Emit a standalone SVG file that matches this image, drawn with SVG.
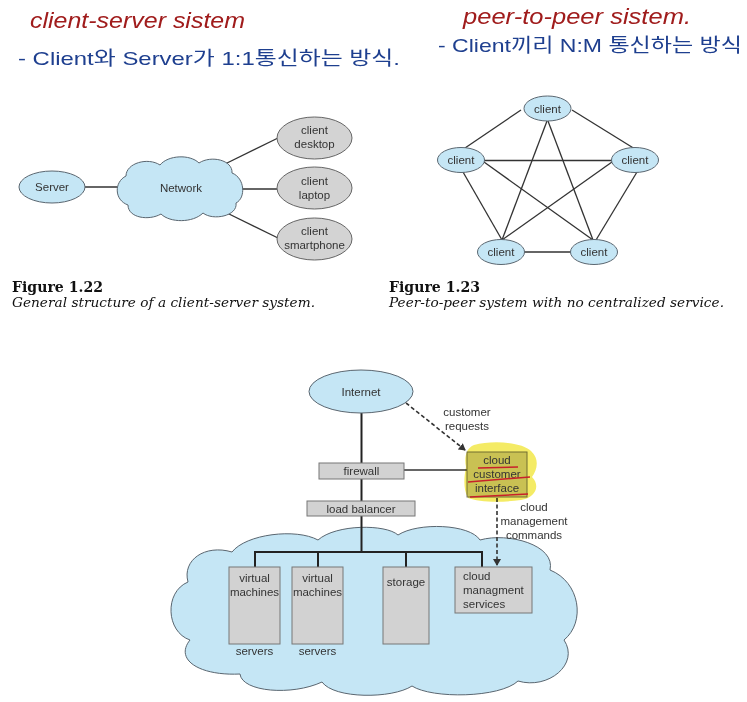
<svg xmlns="http://www.w3.org/2000/svg" width="747" height="702" viewBox="0 0 747 702">
<defs>
<style>
.hw-red{font-family:"Liberation Sans","Noto Sans CJK KR",sans-serif;font-size:22px;fill:#a01c1c;font-style:italic}
.hw-blue{font-family:"Liberation Sans","Noto Sans CJK KR",sans-serif;font-size:19px;fill:#1e3f8f}
.lbl{font-family:"Liberation Sans",Arial,sans-serif;font-size:11.5px;fill:#333;text-anchor:middle}
.lbl-l{font-family:"Liberation Sans",Arial,sans-serif;font-size:11.5px;fill:#333}
.capb{font-family:"DejaVu Serif","Liberation Serif",serif;font-size:15px;font-weight:bold;fill:#111}
.capi{font-family:"DejaVu Serif","Liberation Serif",serif;font-size:13px;font-style:italic;fill:#111}
.blue{fill:#c5e6f5;stroke:#5a6670;stroke-width:1}
.gray{fill:#d3d3d3;stroke:#666;stroke-width:1}
.box{fill:#d2d2d2;stroke:#777;stroke-width:1}
.edge{stroke:#333;stroke-width:1.3;fill:none}
.bus{stroke:#222;stroke-width:2;fill:none}
.dash{stroke:#333;stroke-width:1.6;fill:none;stroke-dasharray:4 2.5}
.redline{stroke:#c8202a;stroke-width:1.5;fill:none}
</style>
<marker id="arr" markerWidth="8" markerHeight="8" refX="6" refY="4" orient="auto" markerUnits="userSpaceOnUse">
<path d="M0,0 L7,4 L0,8 Z" fill="#333"/>
</marker>
</defs>
<rect width="747" height="702" fill="#fff"/>

<!-- handwritten notes -->
<g id="notes">
<text class="hw-red" x="30" y="28" textLength="215" lengthAdjust="spacingAndGlyphs">client-server sistem</text>
<text class="hw-blue" x="18" y="65" textLength="382" lengthAdjust="spacingAndGlyphs">- Client와 Server가 1:1통신하는 방식.</text>
<text class="hw-red" x="463" y="24" textLength="228" lengthAdjust="spacingAndGlyphs">peer-to-peer sistem.</text>
<text class="hw-blue" x="438" y="52" textLength="304" lengthAdjust="spacingAndGlyphs">- Client끼리 N:M 통신하는 방식</text>
</g>

<!-- Figure 1.22 connectors -->
<g id="connectors-122">
<line class="edge" x1="85" y1="187" x2="121" y2="187"/>
<line class="edge" x1="223" y1="165" x2="278" y2="138"/>
<line class="edge" x1="241" y1="189" x2="277" y2="189"/>
<line class="edge" x1="227" y1="213" x2="278" y2="238"/>
</g>
<g id="server">
<ellipse class="blue" cx="52" cy="187" rx="33" ry="16"/>
<text class="lbl" x="52" y="191">Server</text>
</g>
<g id="network">
<path class="blue" d="M128,205 C114,200 114,182 126,176 C126,163 148,157 160,165 C168,155 190,154 199,163 C211,155 233,160 232,173 C245,178 246,198 236,203 C238,216 213,221 203,213 C193,223 170,223 161,214 C149,221 128,218 128,205 Z"/>
<text class="lbl" x="181" y="192">Network</text>
</g>
<g id="client-desktop">
<ellipse class="gray" cx="314.5" cy="138" rx="37.5" ry="21"/>
<text class="lbl" x="314.5" y="134">client</text>
<text class="lbl" x="314.5" y="148">desktop</text>
</g>
<g id="client-laptop">
<ellipse class="gray" cx="314.5" cy="188" rx="37.5" ry="21"/>
<text class="lbl" x="314.5" y="185">client</text>
<text class="lbl" x="314.5" y="199">laptop</text>
</g>
<g id="client-smartphone">
<ellipse class="gray" cx="314.5" cy="239" rx="37.5" ry="21"/>
<text class="lbl" x="314.5" y="235">client</text>
<text class="lbl" x="314.5" y="249">smartphone</text>
</g>
<g id="caption-122">
<text class="capb" x="12" y="292" textLength="91" lengthAdjust="spacingAndGlyphs">Figure 1.22</text>
<text class="capi" x="12" y="307" textLength="303" lengthAdjust="spacingAndGlyphs">General structure of a client-server system.</text>
</g>

<!-- Figure 1.23 connectors -->
<g id="connectors-123">
<line class="edge" x1="521" y1="110" x2="465" y2="148"/>
<line class="edge" x1="572" y1="110" x2="635" y2="149"/>
<line class="edge" x1="484" y1="160.5" x2="612" y2="160.5"/>
<line class="edge" x1="463" y1="172" x2="502" y2="240"/>
<line class="edge" x1="637" y1="172" x2="596" y2="240"/>
<line class="edge" x1="524" y1="252" x2="571" y2="252"/>
<line class="edge" x1="547" y1="121" x2="502" y2="240"/>
<line class="edge" x1="548" y1="121" x2="593" y2="240"/>
<line class="edge" x1="484" y1="162" x2="593" y2="240"/>
<line class="edge" x1="612" y1="162" x2="502" y2="240"/>
</g>
<g id="p2p-top"><ellipse class="blue" cx="547.5" cy="108.5" rx="23.5" ry="12.5"/><text class="lbl" x="547.5" y="112.5">client</text></g>
<g id="p2p-left"><ellipse class="blue" cx="461" cy="160" rx="23.5" ry="12.5"/><text class="lbl" x="461" y="164">client</text></g>
<g id="p2p-right"><ellipse class="blue" cx="635" cy="160" rx="23.5" ry="12.5"/><text class="lbl" x="635" y="164">client</text></g>
<g id="p2p-bl"><ellipse class="blue" cx="501" cy="252" rx="23.5" ry="12.5"/><text class="lbl" x="501" y="256">client</text></g>
<g id="p2p-br"><ellipse class="blue" cx="594" cy="252" rx="23.5" ry="12.5"/><text class="lbl" x="594" y="256">client</text></g>
<g id="caption-123">
<text class="capb" x="389" y="292" textLength="91" lengthAdjust="spacingAndGlyphs">Figure 1.23</text>
<text class="capi" x="389" y="307" textLength="335" lengthAdjust="spacingAndGlyphs">Peer-to-peer system with no centralized service.</text>
</g>

<!-- Cloud computing figure -->
<g id="cloud">
<path class="blue" d="M190,640 C166,632 164,592 188,582 C182,560 205,544 232,552 C246,534 296,528 318,540 C336,524 386,524 398,535 C418,522 470,524 480,540 C508,532 556,545 550,570 C580,582 586,622 564,640 C580,664 548,690 518,681 C500,698 432,699 412,686 C392,699 334,699 322,682 C292,696 242,692 240,674 C200,676 174,660 190,640 Z"/>
</g>
<g id="connectors-cloud">
<line class="bus" x1="361.5" y1="413" x2="361.5" y2="463"/>
<line class="bus" x1="361.5" y1="479" x2="361.5" y2="501"/>
<line class="bus" x1="361.5" y1="516" x2="361.5" y2="552"/>
<polyline class="bus" points="255,567 255,552 482,552 482,567"/>
<line class="bus" x1="318" y1="552" x2="318" y2="567"/>
<line class="bus" x1="406" y1="552" x2="406" y2="567"/>
<line class="edge" x1="404" y1="470" x2="467" y2="470"/>
<line class="dash" x1="406" y1="403" x2="465" y2="450" marker-end="url(#arr)"/>
<line class="dash" x1="497" y1="498" x2="497" y2="565" marker-end="url(#arr)"/>
<text class="lbl" x="467" y="416">customer</text>
<text class="lbl" x="467" y="430">requests</text>
<text class="lbl" x="534" y="511">cloud</text>
<text class="lbl" x="534" y="525">management</text>
<text class="lbl" x="534" y="539">commands</text>
</g>
<g id="internet">
<ellipse class="blue" cx="361" cy="391.5" rx="52" ry="21.5"/>
<text class="lbl" x="361" y="395.5">Internet</text>
</g>
<g id="firewall">
<rect class="box" x="319" y="463" width="85" height="16"/>
<text class="lbl" x="361.5" y="475">firewall</text>
</g>
<g id="load-balancer">
<rect class="box" x="307" y="501" width="108" height="15"/>
<text class="lbl" x="361" y="512.5">load balancer</text>
</g>
<g id="cloud-customer-interface">
<rect class="box" x="467" y="452" width="60" height="45"/>
<path d="M474,445 C492,440 522,442 531,451 C540,459 537,470 532,477 C541,486 535,498 521,500 C500,503 478,502 468,498 C463,489 464,477 466,467 C464,458 466,448 474,445 Z" fill="#f2e84a" style="mix-blend-mode:multiply" opacity="0.85"/>
<text class="lbl" x="497" y="464">cloud</text>
<text class="lbl" x="497" y="478">customer</text>
<text class="lbl" x="497" y="492">interface</text>
<path class="redline" d="M478,468 L518,467"/>
<path class="redline" d="M468,482 L530,477"/>
<path class="redline" d="M470,497 L528,494"/>
</g>
<g id="vm1">
<rect class="box" x="229" y="567" width="51" height="77"/>
<text class="lbl" x="254.5" y="582">virtual</text>
<text class="lbl" x="254.5" y="596">machines</text>
<text class="lbl" x="254.5" y="655">servers</text>
</g>
<g id="vm2">
<rect class="box" x="292" y="567" width="51" height="77"/>
<text class="lbl" x="317.5" y="582">virtual</text>
<text class="lbl" x="317.5" y="596">machines</text>
<text class="lbl" x="317.5" y="655">servers</text>
</g>
<g id="storage">
<rect class="box" x="383" y="567" width="46" height="77"/>
<text class="lbl" x="406" y="586">storage</text>
</g>
<g id="cloud-management-services">
<rect class="box" x="455" y="567" width="77" height="46"/>
<text class="lbl-l" x="463" y="580">cloud</text>
<text class="lbl-l" x="463" y="594">managment</text>
<text class="lbl-l" x="463" y="608">services</text>
</g>
</svg>
